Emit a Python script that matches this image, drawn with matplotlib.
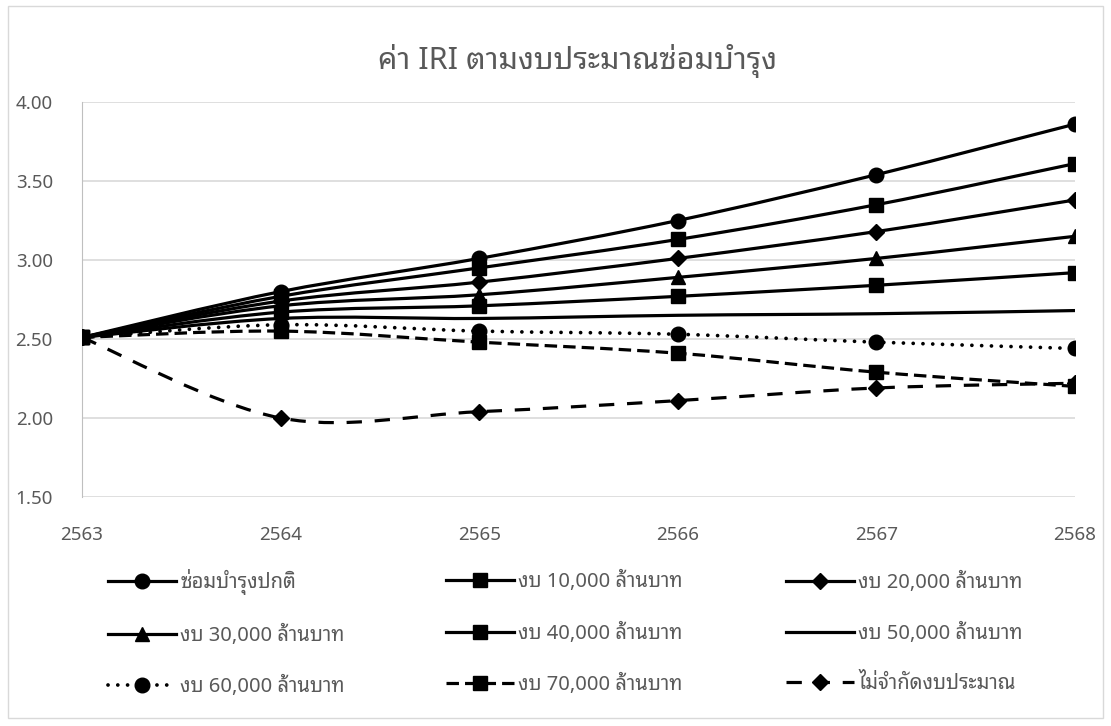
import numpy as np
import matplotlib.pyplot as plt
from matplotlib.path import Path
from matplotlib.patches import PathPatch, Rectangle
from matplotlib.lines import Line2D

years = ['2563', '2564', '2565', '2566', '2567', '2568']
labels = ['ซ่อมบำรุงปกติ', 'งบ 10,000 ล้านบาท', 'งบ 20,000 ล้านบาท',
          'งบ 30,000 ล้านบาท', 'งบ 40,000 ล้านบาท', 'งบ 50,000 ล้านบาท',
          'งบ 60,000 ล้านบาท', 'งบ 70,000 ล้านบาท', 'ไม่จำกัดงบประมาณ']
normal = [2.51, 2.80, 3.01, 3.25, 3.54, 3.86]
b10k = [2.51, 2.77, 2.95, 3.13, 3.35, 3.61]
b20k = [2.51, 2.74, 2.86, 3.01, 3.18, 3.38]
b30k = [2.51, 2.71, 2.78, 2.89, 3.01, 3.15]
b40k = [2.51, 2.67, 2.71, 2.77, 2.84, 2.92]
b50k = [2.51, 2.63, 2.63, 2.65, 2.66, 2.68]
b60k = [2.51, 2.59, 2.55, 2.53, 2.48, 2.44]
b70k = [2.51, 2.55, 2.48, 2.41, 2.29, 2.20]
nolimit = [2.51, 2.00, 2.04, 2.11, 2.19, 2.22]

series = [normal, b10k, b20k, b30k, b40k, b50k, b60k, b70k, nolimit]
markers = ['o', 's', 'D', '^', 's', '_', 'o', 's', 'D']
msizes = [10.5, 10, 8.5, 10, 10, 6, 10.5, 10, 8.5]
styles = ['-', '-', '-', '-', '-', '-', (0, (0.01, 2.6)), (0, (3.9, 1.9)), (0, (4.8, 4.0))]
caps = ['butt'] * 6 + ['round', 'butt', 'butt']
widths = [2.3] * 6 + [2.7, 2.3, 2.3]

plt.rcParams['font.family'] = ['Noto Sans Thai Looped', 'Noto Sans', 'DejaVu Sans']
gray = '#595959'

fig = plt.figure(figsize=(11.11, 7.26), dpi=100)
ax = fig.add_axes([82 / 1111, 1 - 497 / 726, (1075 - 82) / 1111, (497 - 102) / 726])
fig.patches.append(Rectangle((8 / 1111, 8 / 726), 1095 / 1111, 712 / 726, transform=fig.transFigure,
                             fill=False, edgecolor='#d9d9d9', lw=1))


def smooth_path(xs, ys):
    # excel-like smoothed line, bezier segments between the data points
    pts = np.column_stack([xs, ys])
    verts = [pts[0]]
    codes = [Path.MOVETO]
    n = len(pts)
    for i in range(n - 1):
        p0 = pts[max(i - 1, 0)]
        p1 = pts[i]
        p2 = pts[i + 1]
        p3 = pts[min(i + 2, n - 1)]
        verts += [p1 + (p2 - p0) / 6, p2 - (p3 - p1) / 6, p2]
        codes += [Path.CURVE4] * 3
    return Path(verts, codes)


x = np.arange(len(years))
handles = []
for s, m, ms, ls, cs, lw in zip(series, markers, msizes, styles, caps, widths):
    ax.add_patch(PathPatch(smooth_path(x, np.array(s)), fill=False, edgecolor='black',
                           lw=lw, linestyle=ls, capstyle=cs, zorder=3))
    mk = m if m != '_' else 'None'
    ax.plot(x, s, linestyle='None', marker=mk, ms=ms, color='black', zorder=4)
    handles.append(Line2D([], [], color='black', lw=lw, linestyle=ls, dash_capstyle=cs,
                          marker=m, ms=ms, markeredgewidth=2 if m == '_' else 1))

ax.set_xlim(0, 5)
ax.set_ylim(1.5, 4.0)
yt = np.arange(1.5, 4.01, 0.5)
ax.set_yticks(yt)
ax.set_yticklabels(['%.2f' % v for v in yt])
ax.set_xticks(x)
ax.set_xticklabels(years)
ax.grid(axis='y', color='#d9d9d9', lw=1.2)
ax.set_axisbelow(True)
for sp in ['top', 'right', 'bottom']:
    ax.spines[sp].set_visible(False)
ax.spines['left'].set_color('#bfbfbf')
ax.tick_params(length=0, labelsize=13.5, labelcolor=gray)
ax.tick_params(axis='y', pad=21)
ax.tick_params(axis='x', pad=21)

fig.text(0.52, 1 - 61 / 726, 'ค่า IRI ตามงบประมาณซ่อมบำรุง', ha='center', va='center',
         fontsize=22, color=gray)

# three legends, one per column (excel fills the legend row by row)
col_x = [108, 446, 786]
for c in range(3):
    idx = [c, c + 3, c + 6]
    fig.legend([handles[i] for i in idx], [labels[i] for i in idx],
               loc='center left', bbox_to_anchor=(col_x[c] / 1111, 1 - 633 / 726),
               frameon=False, fontsize=14.5, labelcolor=gray, handlelength=3.4,
               handletextpad=0.2, labelspacing=1.5, borderpad=0, borderaxespad=0)

fig.savefig('out.png', dpi=100)
